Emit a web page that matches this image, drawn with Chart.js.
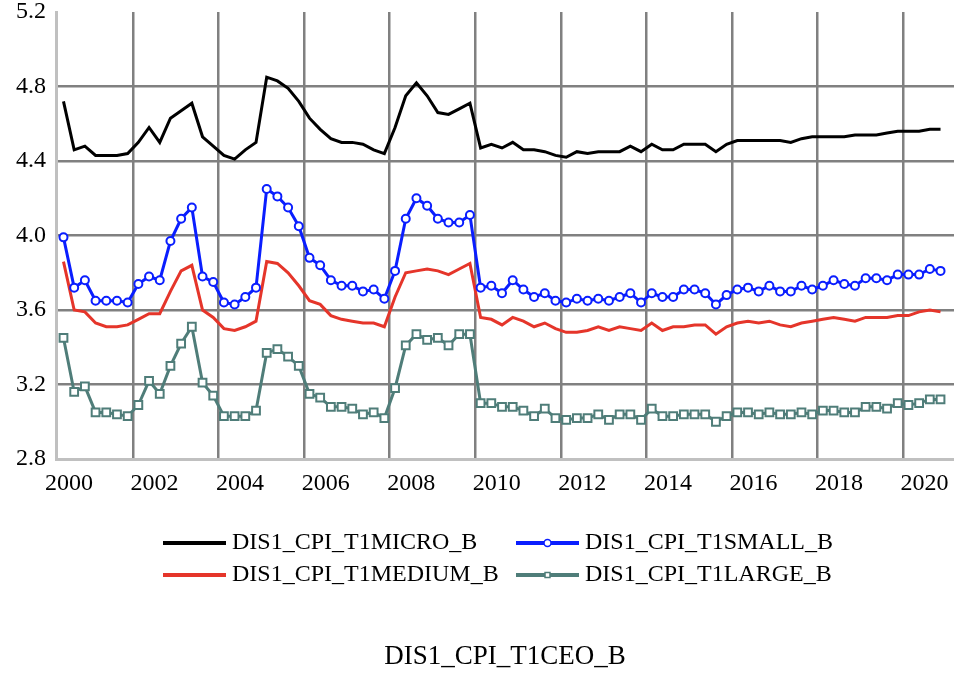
<!DOCTYPE html>
<html>
<head>
<meta charset="utf-8">
<title>DIS1_CPI_T1CEO_B</title>
<script src="https://cdn.jsdelivr.net/npm/chart.js@4.4.1/dist/chart.umd.min.js"></script>
<style>
  html, body { margin: 0; padding: 0; background: #ffffff; }
  canvas { display: block; }
</style>
</head>
<body>
<canvas id="cpi-chart" width="954" height="674"></canvas>
<script>
// quarterly series, 2000Q2 .. 2020Q4
var startYear = 2000;
var startQuarter = 2;
var yearTicks = [2000, 2002, 2004, 2006, 2008, 2010, 2012, 2014, 2016, 2018, 2020];
var chartTitle = 'DIS1_CPI_T1CEO_B';

var microData = [
    4.72, 4.46, 4.48, 4.43, 4.43, 4.43, 4.44, 4.50, 4.58, 4.50,
    4.63, 4.67, 4.71, 4.53, 4.48, 4.43, 4.41, 4.46, 4.50, 4.85,
    4.83, 4.79, 4.72, 4.63, 4.57, 4.52, 4.50, 4.50, 4.49, 4.46,
    4.44, 4.58, 4.75, 4.82, 4.75, 4.66, 4.65, 4.68, 4.71, 4.47,
    4.49, 4.47, 4.50, 4.46, 4.46, 4.45, 4.43, 4.42, 4.45, 4.44,
    4.45, 4.45, 4.45, 4.48, 4.45, 4.49, 4.46, 4.46, 4.49, 4.49,
    4.49, 4.45, 4.49, 4.51, 4.51, 4.51, 4.51, 4.51, 4.50, 4.52,
    4.53, 4.53, 4.53, 4.53, 4.54, 4.54, 4.54, 4.55, 4.56, 4.56,
    4.56, 4.57, 4.57
];
var smallData = [
    3.99, 3.72, 3.76, 3.65, 3.65, 3.65, 3.64, 3.74, 3.78, 3.76,
    3.97, 4.09, 4.15, 3.78, 3.75, 3.64, 3.63, 3.67, 3.72, 4.25,
    4.21, 4.15, 4.05, 3.88, 3.84, 3.76, 3.73, 3.73, 3.70, 3.71,
    3.66, 3.81, 4.09, 4.20, 4.16, 4.09, 4.07, 4.07, 4.11, 3.72,
    3.73, 3.69, 3.76, 3.71, 3.67, 3.69, 3.65, 3.64, 3.66, 3.65,
    3.66, 3.65, 3.67, 3.69, 3.64, 3.69, 3.67, 3.67, 3.71, 3.71,
    3.69, 3.63, 3.68, 3.71, 3.72, 3.70, 3.73, 3.70, 3.70, 3.73,
    3.71, 3.73, 3.76, 3.74, 3.73, 3.77, 3.77, 3.76, 3.79, 3.79,
    3.79, 3.82, 3.81
];
var mediumData = [
    3.86, 3.60, 3.59, 3.53, 3.51, 3.51, 3.52, 3.55, 3.58, 3.58,
    3.70, 3.81, 3.84, 3.60, 3.56, 3.50, 3.49, 3.51, 3.54, 3.86,
    3.85, 3.80, 3.73, 3.65, 3.63, 3.57, 3.55, 3.54, 3.53, 3.53,
    3.51, 3.67, 3.80, 3.81, 3.82, 3.81, 3.79, 3.82, 3.85, 3.56,
    3.55, 3.52, 3.56, 3.54, 3.51, 3.53, 3.50, 3.48, 3.48, 3.49,
    3.51, 3.49, 3.51, 3.50, 3.49, 3.53, 3.49, 3.51, 3.51, 3.52,
    3.52, 3.47, 3.51, 3.53, 3.54, 3.53, 3.54, 3.52, 3.51, 3.53,
    3.54, 3.55, 3.56, 3.55, 3.54, 3.56, 3.56, 3.56, 3.57, 3.57,
    3.59, 3.60, 3.59
];
var largeData = [
    3.45, 3.16, 3.19, 3.05, 3.05, 3.04, 3.03, 3.09, 3.22, 3.15,
    3.30, 3.42, 3.51, 3.21, 3.14, 3.03, 3.03, 3.03, 3.06, 3.37,
    3.39, 3.35, 3.30, 3.15, 3.13, 3.08, 3.08, 3.07, 3.04, 3.05,
    3.02, 3.18, 3.41, 3.47, 3.44, 3.45, 3.41, 3.47, 3.47, 3.10,
    3.10, 3.08, 3.08, 3.06, 3.03, 3.07, 3.02, 3.01, 3.02, 3.02,
    3.04, 3.01, 3.04, 3.04, 3.01, 3.07, 3.03, 3.03, 3.04, 3.04,
    3.04, 3.00, 3.03, 3.05, 3.05, 3.04, 3.05, 3.04, 3.04, 3.05,
    3.04, 3.06, 3.06, 3.05, 3.05, 3.08, 3.08, 3.07, 3.10, 3.09,
    3.10, 3.12, 3.12
];

var quarters = [];
(function () {
    var y = startYear, q = startQuarter;
    for (var i = 0; i < microData.length; i++) {
        quarters.push(y + 'Q' + q);
        q++;
        if (q > 4) { q = 1; y++; }
    }
})();

// observation sits in the middle of its quarter
function quarterPos(label) {
    var y = parseInt(label.slice(0, 4), 10);
    var q = parseInt(label.slice(5), 10);
    return y + (q - 0.5) / 4;
}

function toPoints(values) {
    return values.map(function (v, i) {
        return { x: quarterPos(quarters[i]), y: v };
    });
}

var FONT = '"Liberation Serif", "Times New Roman", serif';
var GRID = '#808080';
var AXIS = '#c0c0c0';

// legend in two columns plus the caption under it
var bottomLegend = {
    id: 'bottomLegend',
    afterDraw: function (chart) {
        var ctx = chart.ctx;
        var area = chart.chartArea;
        var cols = [area.left + 107, area.left + 460];
        var rows = [area.bottom + 84, area.bottom + 116];
        var lineLen = 63;

        ctx.save();
        ctx.font = '24px ' + FONT;
        ctx.textBaseline = 'middle';
        ctx.textAlign = 'left';
        chart.data.datasets.forEach(function (ds, i) {
            var x = cols[i % 2];
            var y = rows[Math.floor(i / 2)];
            ctx.strokeStyle = ds.borderColor;
            ctx.lineWidth = 4;
            ctx.beginPath();
            ctx.moveTo(x, y);
            ctx.lineTo(x + lineLen, y);
            ctx.stroke();
            if (ds.pointRadius > 0) {
                ctx.fillStyle = '#ffffff';
                ctx.lineWidth = 1.5;
                Chart.helpers.drawPoint(ctx, {
                    pointStyle: ds.pointStyle,
                    radius: 3.5,
                    rotation: 0,
                    borderWidth: 1.5
                }, x + lineLen / 2, y);
            }
            ctx.fillStyle = '#000000';
            ctx.fillText(ds.label, x + lineLen + 6, y);
        });

        ctx.font = '27px ' + FONT;
        ctx.textAlign = 'center';
        ctx.fillText(chartTitle, (area.left + area.right) / 2, area.bottom + 198);
        ctx.restore();
    }
};

var ctx = document.getElementById('cpi-chart');
var cpiChart = new Chart(ctx, {
    type: 'line',
    data: {
        datasets: [
            {
                label: 'DIS1_CPI_T1MICRO_B',
                data: toPoints(microData),
                borderColor: '#000000',
                borderWidth: 3,
                pointRadius: 0
            },
            {
                label: 'DIS1_CPI_T1SMALL_B',
                data: toPoints(smallData),
                borderColor: '#0a1eff',
                borderWidth: 3,
                pointStyle: 'circle',
                pointRadius: 4,
                pointBorderWidth: 2,
                pointBackgroundColor: '#ffffff',
                pointBorderColor: '#0a1eff'
            },
            {
                label: 'DIS1_CPI_T1MEDIUM_B',
                data: toPoints(mediumData),
                borderColor: '#e5352a',
                borderWidth: 3,
                pointRadius: 0
            },
            {
                label: 'DIS1_CPI_T1LARGE_B',
                data: toPoints(largeData),
                borderColor: '#4f7d79',
                borderWidth: 3,
                pointStyle: 'rect',
                pointRadius: 5.5,
                pointBorderWidth: 2,
                pointBackgroundColor: '#ffffff',
                pointBorderColor: '#4f7d79'
            }
        ]
    },
    options: {
        responsive: false,
        animation: false,
        devicePixelRatio: 1,
        // no extra room for point overflow: the plot box is fixed
        layout: { padding: 0, autoPadding: false },
        elements: { line: { tension: 0 } },
        plugins: {
            legend: { display: false },
            title: { display: false },
            tooltip: { enabled: false }
        },
        scales: {
            x: {
                type: 'linear',
                min: 2000.2,
                max: 2021.19,
                afterBuildTicks: function (scale) {
                    scale.ticks = yearTicks.map(function (v) { return { value: v }; });
                },
                afterFit: function (scale) {
                    scale.height = 215;
                    scale.paddingLeft = 0;
                    scale.paddingRight = 0;
                },
                grid: {
                    drawTicks: false,
                    lineWidth: 2.5,
                    color: function (c) {
                        return (c.tick && c.tick.value > yearTicks[0]) ? GRID : 'rgba(0,0,0,0)';
                    }
                },
                border: { display: true, color: AXIS, width: 3 },
                ticks: {
                    autoSkip: false,
                    maxRotation: 0,
                    labelOffset: 21.5,
                    padding: 10,
                    color: '#000000',
                    font: { family: FONT, size: 24 },
                    callback: function (v) { return String(v); }
                }
            },
            y: {
                min: 2.8,
                max: 5.2,
                afterFit: function (scale) {
                    scale.width = 56;
                    scale.paddingTop = 12;
                    scale.paddingBottom = 0;
                },
                grid: {
                    drawTicks: false,
                    lineWidth: 2.5,
                    color: function (c) {
                        var v = c.tick ? c.tick.value : 0;
                        return (v > 2.85 && v < 5.15) ? GRID : 'rgba(0,0,0,0)';
                    }
                },
                border: { display: true, color: AXIS, width: 3 },
                ticks: {
                    stepSize: 0.4,
                    padding: 10,
                    color: '#000000',
                    font: { family: FONT, size: 24, lineHeight: 1 },
                    callback: function (v) { return v.toFixed(1); }
                }
            }
        }
    },
    plugins: [bottomLegend]
});
</script>
</body>
</html>
